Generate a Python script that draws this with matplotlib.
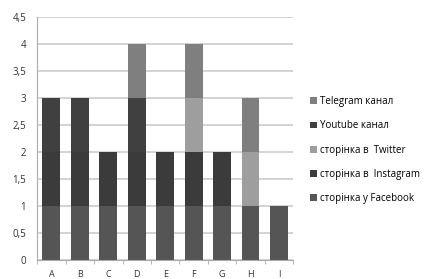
import numpy as np
import matplotlib
matplotlib.use("Agg")
import matplotlib.pyplot as plt

plt.rcParams['font.family'] = ['Open Sans', 'DejaVu Sans']

# Categories and stacked series (bottom to top)
categories = ['A', 'B', 'C', 'D', 'E', 'F', 'G', 'H', 'I']
facebook = [1, 1, 1, 1, 1, 1, 1, 1, 1]
instagram = [1, 1, 1, 1, 1, 1, 1, 0, 0]
twitter = [0, 0, 0, 0, 0, 1, 0, 1, 0]
youtube = [1, 1, 0, 1, 0, 0, 0, 0, 0]
telegram = [0, 0, 0, 1, 0, 1, 0, 1, 0]

series = [
    ('сторінка у Facebook', facebook, '#555555'),
    ('сторінка в  Instagram', instagram, '#3b3b3b'),
    ('сторінка в  Twitter', twitter, '#9e9e9e'),
    ('Youtube канал', youtube, '#404040'),
    ('Telegram канал', telegram, '#7f7f7f'),
]

fig = plt.figure(figsize=(4.28, 2.79), dpi=100)
ax = fig.add_axes([0.087, 0.068, 0.598, 0.872])

x = np.arange(len(categories))
bottom = np.zeros(len(categories))
handles = []
for label, vals, color in series:
    b = ax.bar(x, vals, width=0.63, bottom=bottom, color=color, label=label, zorder=2)
    handles.append(b)
    bottom += np.array(vals)

ax.set_xlim(-0.5, len(categories) - 0.5)
ax.set_ylim(0, 4.5)
yt = np.arange(0, 4.51, 0.5)
ax.set_yticks(yt)
ax.set_yticklabels([('%g' % v).replace('.', ',') for v in yt], fontsize=7, color='#333333')
ax.set_xticks(x)
ax.set_xticklabels(categories, fontsize=6.5, color='#333333')
ax.tick_params(axis='y', length=0, pad=8)
ax.tick_params(axis='x', length=0, pad=7)
ax.set_xticks(np.arange(-0.5, len(categories), 1), minor=True)
ax.tick_params(axis='x', which='minor', length=3, color='#aaaaaa')

ax.grid(axis='y', color='#cccccc', linewidth=1.2, zorder=0)
for s in ['top', 'right']:
    ax.spines[s].set_visible(False)
for s in ['left', 'bottom']:
    ax.spines[s].set_color('#aaaaaa')

fig.legend(handles[::-1], [s[0] for s in series[::-1]], loc='upper left',
           bbox_to_anchor=(0.725, 0.655), frameon=False, fontsize=7,
           handlelength=0.7, handleheight=0.7, handletextpad=0.3,
           labelspacing=1.36, borderaxespad=0, borderpad=0)

fig.savefig('out.png', dpi=100)
